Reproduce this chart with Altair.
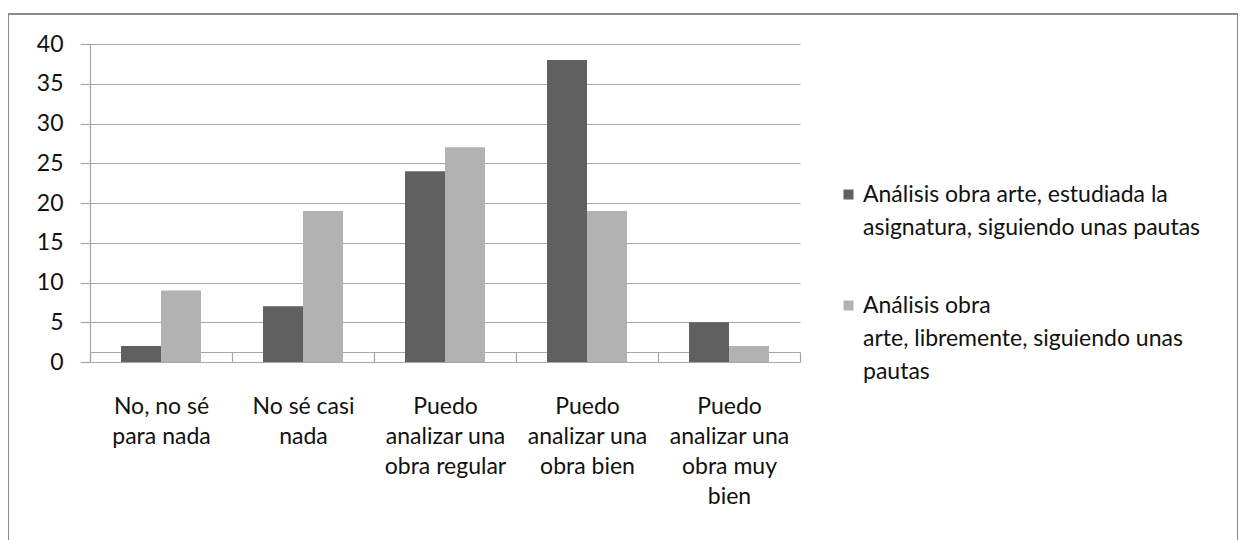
import json
import altair as alt
import pandas as pd

categories = [
    "No, no sé para nada",
    "No sé casi nada",
    "Puedo analizar una obra regular",
    "Puedo analizar una obra bien",
    "Puedo analizar una obra muy bien",
]
category_lines = [
    ["No, no sé", "para nada"],
    ["No sé casi", "nada"],
    ["Puedo", "analizar una", "obra regular"],
    ["Puedo", "analizar una", "obra bien"],
    ["Puedo", "analizar una", "obra muy", "bien"],
]
series_names = [
    "Análisis obra arte, estudiada la asignatura, siguiendo unas pautas",
    "Análisis obra arte, libremente, siguiendo unas pautas",
]
series_lines = [
    ["Análisis obra arte, estudiada la", "asignatura, siguiendo unas pautas"],
    ["Análisis obra", "arte, libremente, siguiendo unas", "pautas"],
]
values_s1 = [2, 7, 24, 38, 5]
values_s2 = [9, 19, 27, 19, 2]
y_ticks = [0, 5, 10, 15, 20, 25, 30, 35, 40]
colors = ["#606060", "#b2b2b2"]

rows = []
for c, a, b in zip(categories, values_s1, values_s2):
    rows.append({"category": c, "series": series_names[0], "value": a})
    rows.append({"category": c, "series": series_names[1], "value": b})
df = pd.DataFrame(rows)


def lookup_expr(keys, lines):
    expr = "datum.label"
    for k, l in reversed(list(zip(keys, lines))):
        expr = f"datum.label == {json.dumps(k, ensure_ascii=False)} ? {json.dumps(l, ensure_ascii=False)} : ({expr})"
    return expr


FONT = "Lato"
FS = 23
GRID = "#a6a6a6"
TEXT = "#111111"

chart = (
    alt.Chart(df)
    .mark_bar()
    .encode(
        x=alt.X(
            "category:N",
            sort=categories,
            scale=alt.Scale(range=[82, 792], paddingInner=0, paddingOuter=0),
            axis=alt.Axis(
                title=None,
                labelAngle=0,
                tickBand="extent",
                offset=-192,
                labelExpr=lookup_expr(categories, category_lines),
                labelLineHeight=30,
                labelPadding=33,
                tickSize=10,
                labelBaseline="top",
            ),
        ),
        xOffset=alt.XOffset(
            "series:N",
            sort=series_names,
            scale=alt.Scale(paddingInner=0, paddingOuter=0.775),
        ),
        y=alt.Y(
            "value:Q",
            scale=alt.Scale(domain=[0, 40], range=[348, 30], nice=False),
            axis=alt.Axis(
                title=None,
                values=y_ticks,
                offset=-82,
                tickSize=10,
                labelPadding=17,
                grid=True,
            ),
        ),
        color=alt.Color(
            "series:N",
            sort=series_names,
            scale=alt.Scale(domain=series_names, range=colors),
            legend=alt.Legend(
                title=None,
                orient="none",
                legendX=829,
                legendY=169,
                symbolType="square",
                symbolSize=100,
                symbolStrokeWidth=0,
                labelExpr=lookup_expr(series_names, series_lines),
                labelFont=FONT,
                labelFontSize=FS,
                labelColor=TEXT,
                labelLimit=500,
                rowPadding=54,
                labelOffset=3,
            ),
        ),
    )
    .properties(
        width=1230,
        height=530,
        padding={"left": 0, "top": 6, "right": 0, "bottom": 0},
        autosize=alt.AutoSizeParams(type="none"),
    )
    .configure(style={"guide-label": {"lineHeight": 33}})
    .configure_view(stroke="#8a8a8a", strokeWidth=2)
    .configure_axis(
        labelFont=FONT,
        labelFontSize=FS,
        labelColor=TEXT,
        domainColor=GRID,
        tickColor=GRID,
        gridColor=GRID,
        gridOpacity=1,
        domainWidth=1.2,
        gridWidth=1,
        tickWidth=1.2,
    )
)

chart.save("out.html", embed_options={"renderer": "svg", "actions": False})
